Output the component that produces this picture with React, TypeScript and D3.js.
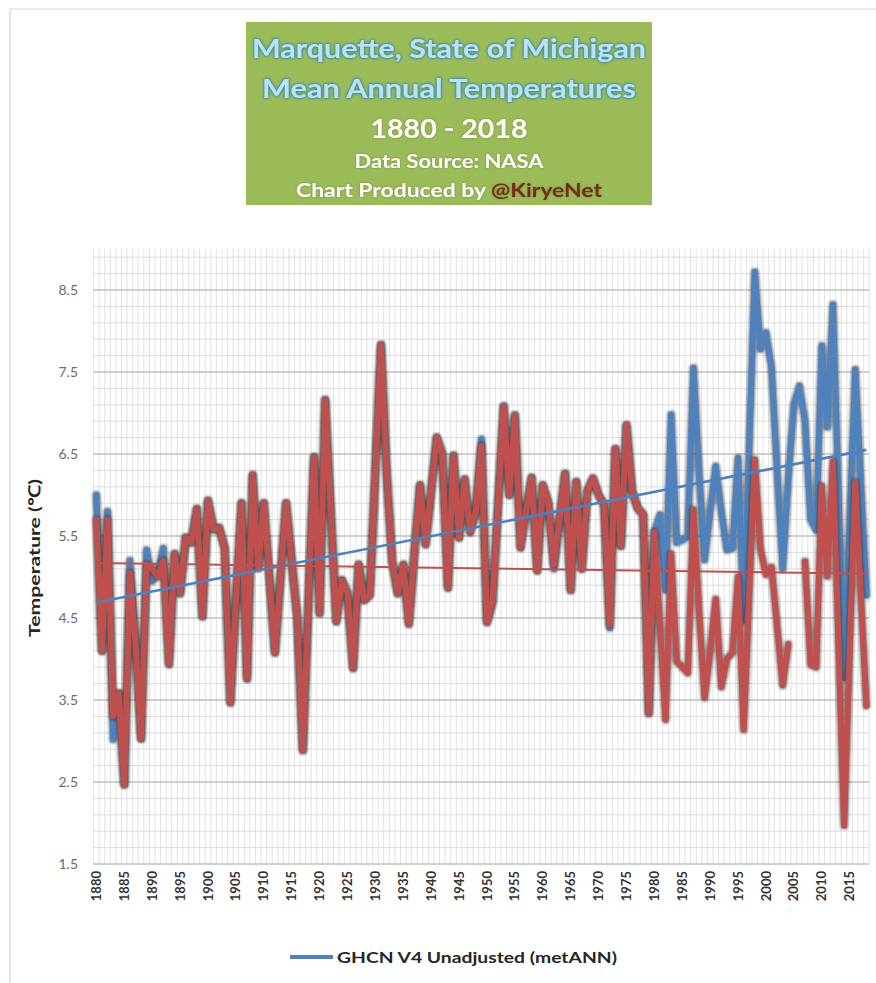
import React from "react";
import * as d3 from "d3";

const years: number[] = d3.range(1880, 2019);

// GHCN V4 Unadjusted (blue)
const unadjusted: number[] = [
  6.0, 4.1, 5.8, 3.02, 3.58, 2.47, 5.2, 4.2, 3.03, 5.33,
  4.95, 5.05, 5.35, 3.94, 5.28, 4.8, 5.48, 5.42, 5.83, 4.52,
  5.93, 5.58, 5.6, 5.35, 3.47, 4.7, 5.9, 3.76, 6.24, 5.11,
  5.9, 5.0, 4.08, 5.0, 5.9, 5.2, 4.5, 2.89, 4.7, 6.46,
  4.56, 7.16, 5.8, 4.46, 4.96, 4.8, 3.89, 5.15, 4.72, 4.78,
  6.3, 7.83, 6.3, 5.2, 4.8, 5.15, 4.43, 5.3, 6.12, 5.4,
  6.05, 6.7, 6.5, 4.87, 6.48, 5.48, 6.19, 5.55, 5.8, 6.68,
  4.45, 4.7, 5.9, 7.08, 6.0, 6.97, 5.36, 5.8, 6.21, 5.08,
  6.12, 5.9, 5.1, 5.7, 6.26, 4.84, 6.16, 5.1, 6.05, 6.2,
  6.0, 5.88, 4.38, 6.56, 5.38, 6.85, 6.05, 5.84, 5.76, 3.34,
  5.55, 5.76, 4.84, 6.98, 5.42, 5.45, 5.5, 7.55, 6.3, 5.21,
  5.8, 6.35, 5.8, 5.33, 5.35, 6.45, 4.47, 6.6, 8.72, 7.78,
  7.98, 7.55, 6.3, 5.1, 6.2, 7.1, 7.33, 6.9, 5.7, 5.57,
  7.82, 6.83, 8.32, 6.0, 3.77, 5.65, 7.53, 6.15, 4.78,
];

// Adjusted series (red)
const adjusted: (number | null)[] = [
  5.7, 4.1, 5.7, 3.3, 3.58, 2.47, 5.05, 4.2, 3.03, 5.15,
  5.1, 5.0, 5.2, 3.94, 5.28, 4.8, 5.48, 5.42, 5.83, 4.52,
  5.93, 5.58, 5.6, 5.35, 3.47, 4.7, 5.9, 3.76, 6.24, 5.11,
  5.9, 5.0, 4.08, 5.0, 5.9, 5.2, 4.5, 2.89, 4.7, 6.46,
  4.56, 7.16, 5.8, 4.46, 4.96, 4.8, 3.89, 5.15, 4.72, 4.78,
  6.3, 7.83, 6.3, 5.2, 4.8, 5.15, 4.43, 5.3, 6.12, 5.4,
  6.05, 6.7, 6.5, 4.87, 6.48, 5.48, 6.19, 5.55, 5.8, 6.6,
  4.45, 4.7, 5.9, 7.08, 6.0, 6.97, 5.36, 5.8, 6.21, 5.08,
  6.12, 5.9, 5.15, 5.7, 6.26, 4.84, 6.16, 5.1, 6.05, 6.2,
  6.0, 5.88, 4.42, 6.56, 5.38, 6.85, 6.05, 5.84, 5.76, 3.34,
  5.55, 4.4, 3.26, 5.28, 3.97, 3.9, 3.83, 5.82, 4.6, 3.53,
  4.1, 4.73, 3.66, 4.0, 4.08, 5.0, 3.14, 4.8, 6.43, 5.35,
  5.03, 5.12, 4.4, 3.68, 4.18, null, null, 5.19, 3.93, 3.9,
  6.11, 5.01, 6.41, 4.2, 1.97, 4.1, 6.16, 4.8, 3.43,
];

const trendYears: number[] = [1880, 2018];
const unadjustedTrend: number[] = [4.69, 6.55];
const adjustedTrend: number[] = [5.17, 5.04];

const yTickValues: number[] = [1.5, 2.5, 3.5, 4.5, 5.5, 6.5, 7.5, 8.5];
const yTickLabels: string[] = ["1.5", "2.5", "3.5", "4.5", "5.5", "6.5", "7.5", "8.5"];
const xTickYears: number[] = d3.range(1880, 2016, 5);

const legendLabel = "GHCN V4 Unadjusted (metANN)";
const yAxisTitle = "Temperature (\u2103)";

const BLUE = "#4f81bd";
const RED = "#c0504d";

export default function App() {
  const x = d3.scalePoint<number>().domain(years).range([96.4, 866.4]);
  const step = x.step();
  const y = d3.scaleLinear().domain([1.5, 9.0]).range([864, 249]);
  const plotLeft = x(1880)! - step / 2;
  const plotRight = x(2018)! + step / 2;
  const plotTop = y(9.0);
  const plotBottom = y(1.5);

  const line = d3
    .line<number | null>()
    .defined((v) => v != null)
    .x((_, i) => x(years[i])!)
    .y((v) => y(v as number));

  const trendLine = d3
    .line<number>()
    .x((_, i) => x(trendYears[i])!)
    .y((v) => y(v));

  const minorY = d3.range(0, 38).map((k) => 1.5 + k * 0.2).filter((v) => v <= 9.0 + 1e-9);
  const vLines = d3.range(0, years.length + 1).map((i) => plotLeft + i * step);

  const blueD = line(unadjusted) || "";
  const redD = line(adjusted) || "";

  const font = "Lato, 'Open Sans', 'Liberation Sans', sans-serif";

  return (
    <svg
      width={876}
      height={983}
      style={{ position: "absolute", left: 0, top: 0, background: "#fff" }}
      xmlns="http://www.w3.org/2000/svg"
    >
      <defs>
        <filter id="shadow" x="-5%" y="-5%" width="110%" height="110%">
          <feGaussianBlur stdDeviation="0.9" />
        </filter>
        <filter id="glow" x="-10%" y="-30%" width="120%" height="160%">
          <feGaussianBlur in="SourceAlpha" stdDeviation="1.6" result="b" />
          <feFlood floodColor="#2f7fae" result="c" />
          <feComposite in="c" in2="b" operator="in" result="g" />
          <feMerge>
            <feMergeNode in="g" />
            <feMergeNode in="g" />
            <feMergeNode in="SourceGraphic" />
          </feMerge>
        </filter>
        <filter id="soft" x="-10%" y="-30%" width="120%" height="160%">
          <feGaussianBlur in="SourceAlpha" stdDeviation="1" result="b" />
          <feFlood floodColor="#4d6a20" floodOpacity="0.6" result="c" />
          <feComposite in="c" in2="b" operator="in" result="g" />
          <feMerge>
            <feMergeNode in="g" />
            <feMergeNode in="SourceGraphic" />
          </feMerge>
        </filter>
      </defs>

      {/* outer chart frame */}
      <line x1={10} y1={9} x2={876} y2={9} stroke="#d4d4d4" strokeWidth={1.2} />
      <line x1={10} y1={9} x2={10} y2={983} stroke="#d4d4d4" strokeWidth={1.2} />

      {/* title box */}
      <rect x={246} y={22} width={406} height={183} fill="#9bbb59" />
      <g fontFamily={font} fontWeight={700} textAnchor="middle">
        <text x={449} y={58} fontSize={27} fill="#b4e4f6" filter="url(#glow)" textLength={394} lengthAdjust="spacingAndGlyphs">
          Marquette, State of Michigan
        </text>
        <text x={449} y={98} fontSize={27} fill="#b4e4f6" filter="url(#glow)" textLength={374} lengthAdjust="spacingAndGlyphs">
          Mean Annual Temperatures
        </text>
        <text x={449} y={138} fontSize={27} fill="#ffffff" filter="url(#soft)" textLength={157} lengthAdjust="spacingAndGlyphs">
          1880 - 2018
        </text>
        <text x={449} y={168} fontSize={18} fill="#ffffff" filter="url(#soft)" textLength={189} lengthAdjust="spacingAndGlyphs">
          Data Source: NASA
        </text>
        <text x={449} y={197} fontSize={18} fill="#ffffff" filter="url(#soft)" textLength={306} lengthAdjust="spacingAndGlyphs">
          Chart Produced by <tspan fill="#7a2a1c">@KiryeNet</tspan>
        </text>
      </g>

      {/* gridlines */}
      <g>
        {vLines.map((vx, i) => (
          <line key={"v" + i} x1={vx} x2={vx} y1={plotTop} y2={plotBottom} stroke="#e2e2e2" strokeWidth={1} />
        ))}
        {minorY.map((v, i) => (
          <line key={"m" + i} x1={plotLeft} x2={plotRight} y1={y(v)} y2={y(v)} stroke="#dcdcdc" strokeWidth={1} />
        ))}
        {yTickValues.map((v, i) => (
          <line key={"M" + i} x1={plotLeft} x2={plotRight} y1={y(v)} y2={y(v)} stroke="#c4c4c4" strokeWidth={1.6} />
        ))}
      </g>

      {/* y tick labels */}
      <g fontFamily={font} fontSize={14} fill="#6b6b6b" textAnchor="end">
        {yTickValues.map((v, i) => (
          <text key={"yl" + i} x={78} y={y(v)} dy="0.35em">
            {yTickLabels[i]}
          </text>
        ))}
      </g>

      {/* y axis title */}
      <text
        transform={`translate(40, 558) rotate(-90)`}
        fontFamily={font}
        fontSize={16}
        fontWeight={700}
        fill="#262626"
        textAnchor="middle"
        textLength={158}
        lengthAdjust="spacingAndGlyphs"
      >
        {yAxisTitle}
      </text>

      {/* x tick labels */}
      <g fontFamily={font} fontSize={13} fontWeight={700} fill="#333">
        {xTickYears.map((yr) => (
          <text
            key={"xl" + yr}
            transform={`translate(${x(yr)}, 871) rotate(-90)`}
            textAnchor="end"
            dy="0.35em"
          >
            {yr}
          </text>
        ))}
      </g>

      {/* data lines */}
      <path d={blueD} fill="none" stroke="#2e2e2e" strokeOpacity={0.55} strokeWidth={8.5} strokeLinejoin="round" strokeLinecap="round" filter="url(#shadow)" />
      <path d={blueD} fill="none" stroke={BLUE} strokeWidth={6} strokeLinejoin="round" strokeLinecap="round" />
      <path d={redD} fill="none" stroke="#2e2e2e" strokeOpacity={0.55} strokeWidth={8.5} strokeLinejoin="round" strokeLinecap="round" filter="url(#shadow)" />
      <path d={redD} fill="none" stroke={RED} strokeWidth={6} strokeLinejoin="round" strokeLinecap="round" />

      {/* trend lines */}
      <path d={trendLine(unadjustedTrend) || ""} fill="none" stroke={BLUE} strokeWidth={2.6} />
      <path d={trendLine(adjustedTrend) || ""} fill="none" stroke={RED} strokeWidth={2} />

      {/* legend */}
      <line x1={290} x2={333} y1={957} y2={957} stroke="#2e2e2e" strokeOpacity={0.35} strokeWidth={6} filter="url(#shadow)" />
      <line x1={290} x2={333} y1={957} y2={957} stroke={BLUE} strokeWidth={4} />
      <text x={337} y={963} fontFamily={font} fontSize={16} fontWeight={700} fill="#262626" textLength={280} lengthAdjust="spacingAndGlyphs">
        {legendLabel}
      </text>
    </svg>
  );
}
